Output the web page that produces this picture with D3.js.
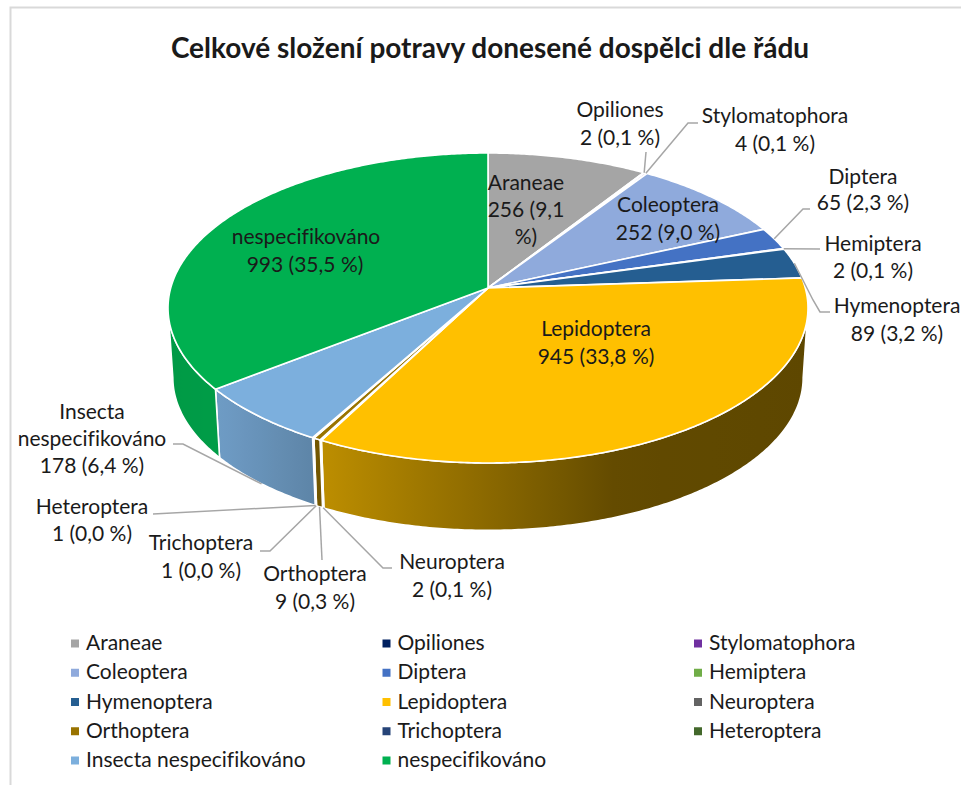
<!DOCTYPE html>
<html lang="cs">
<head>
<meta charset="utf-8">
<script src="https://cdn.jsdelivr.net/npm/d3@7/dist/d3.min.js"></script>
<style>
html,body{margin:0;padding:0;background:#fff;}
svg{display:block;}
text{font-family:Lato,"Liberation Sans",sans-serif;fill:#1a1a1a;font-variant-ligatures:none;}
</style>
</head>
<body>
<svg id="chart" width="961" height="785"></svg>
<script>
const titleText = "Celkové složení potravy donesené dospělci dle řádu";
const categories = ["Araneae","Opiliones","Stylomatophora","Coleoptera","Diptera","Hemiptera","Hymenoptera","Lepidoptera","Neuroptera","Orthoptera","Trichoptera","Heteroptera","Insecta nespecifikováno","nespecifikováno"];
const values = [256,2,4,252,65,2,89,945,2,9,1,1,178,993];
const percentLabels = ["9,1","0,1","0,1","9,0","2,3","0,1","3,2","33,8","0,1","0,3","0,0","0,0","6,4","35,5"];
const colors = ["#A5A5A5","#002060","#7030A0","#8FAADC","#4472C4","#70AD47","#255E91","#FFC000","#636363","#997300","#264478","#43682B","#7CAFDD","#00B050"];

// Layout of the labels: [lines with centre x and baseline y]
const labelLayout = {
  "Araneae":[[526,190],[526,217],[526,244]],
  "Opiliones":[[620,117],[620,145]],
  "Stylomatophora":[[775,123],[775,151]],
  "Coleoptera":[[668,212],[668,240]],
  "Diptera":[[863,184],[863,210]],
  "Hemiptera":[[873,251],[873,278]],
  "Hymenoptera":[[897,313],[897,341]],
  "Lepidoptera":[[596,336],[596,364]],
  "Neuroptera":[[452,569],[452,597]],
  "Orthoptera":[[315,581],[315,609]],
  "Trichoptera":[[201,550],[201,578]],
  "Heteroptera":[[92,514],[92,541]],
  "Insecta nespecifikováno":[[92,419],[92,446],[92,473]],
  "nespecifikováno":[[306,244],[305,272]]
};
const labelBreaks = {
  "Araneae":["Araneae","256 (9,1","%)"],
  "Insecta nespecifikováno":["Insecta","nespecifikováno","178 (6,4 %)"]
};
// Leader elbows, running outward from the slice edge; wall = anchored on the lower rim
const leaders = {
  "Opiliones":{wall:false,pts:[[646,152]]},
  "Stylomatophora":{wall:false,pts:[[688,123],[698,123]]},
  "Diptera":{wall:false,pts:[[803,209],[810,209]]},
  "Hemiptera":{wall:false,pts:[[820,249]]},
  "Hymenoptera":{wall:false,pts:[[813,300],[820,312],[830,312]]},
  "Neuroptera":{wall:true,pts:[[383,568],[392,568]]},
  "Orthoptera":{wall:true,pts:[[322,560]]},
  "Trichoptera":{wall:true,pts:[[270,551],[260,551]]},
  "Heteroptera":{wall:true,pts:[[153,514]]},
  "Insecta nespecifikováno":{wall:true,pts:[[183,444],[173,444]]}
};

const svg = d3.select("#chart");
const defs = svg.append("defs");
const colorScale = d3.scaleOrdinal().domain(categories).range(colors);

// frame
svg.append("path").attr("d","M10.5,785V7.5H961").attr("fill","none").attr("stroke","#d9d9d9").attr("stroke-width",2);

// title
svg.append("text").attr("x",490).attr("y",58).attr("text-anchor","middle")
  .attr("font-size",28).attr("font-weight",700).attr("fill","#111").text(titleText);

// perspective projection of a unit disc, so the centre sits above the ellipse centre
const cx = 488, cy = 288, K = 40/310, B = 152.4, R = 317.3;
const DEPTH = 70, BOTTOM_SCALE = 0.985;
function project(a, scale=1, dy=0){
  const u = Math.sin(a), v = -Math.cos(a), d = 1 - K*v;
  return [cx + scale*R*u/d, cy + dy + scale*B*v/d];
}
const line = d3.line();
const pie = d3.pie().sort(null).value(d=>d.value).startAngle(0).endAngle(2*Math.PI);
const arcs = pie(categories.map((name,i)=>({name,value:values[i],pct:percentLabels[i]})));
const samples = (a0,a1)=>{
  const n = Math.max(2,Math.ceil((a1-a0)/0.01));
  return d3.range(n+1).map(i=>a0+(a1-a0)*i/n);
};

// side walls: only the part in front of the silhouette
const visFrom = Math.acos(-K), visTo = 2*Math.PI - visFrom;
const shade = d3.scaleLinear().domain([172,220,312,327,440,620,808]).range([.875,.89,.76,.73,.6,.385,.37]).clamp(true);
const gSides = svg.append("g");
arcs.forEach((d,i)=>{
  const a0 = Math.max(d.startAngle,visFrom), a1 = Math.min(d.endAngle,visTo);
  if(a1<=a0) return;
  const top = samples(a0,a1).map(a=>project(a));
  const bot = samples(a0,a1).map(a=>project(a,BOTTOM_SCALE,DEPTH)).reverse();
  const id = "side"+i, base = d3.rgb(colorScale(d.data.name));
  const xs = d3.extent(top.concat(bot),p=>p[0]);
  const grad = defs.append("linearGradient").attr("id",id).attr("gradientUnits","userSpaceOnUse")
    .attr("x1",xs[0]).attr("x2",xs[1]).attr("y1",0).attr("y2",0);
  d3.range(0,1.0001,0.1).forEach(t=>{
    const x = xs[0]+(xs[1]-xs[0])*t, f = shade(x);
    grad.append("stop").attr("offset",t).attr("stop-color",d3.rgb(base.r*f,base.g*f,base.b*f).formatHex());
  });
  gSides.append("path").attr("d",line(top.concat(bot))+"Z").attr("fill",`url(#${id})`)
    .attr("stroke","#fff").attr("stroke-width",1.6).attr("stroke-linejoin","round");
});

// top faces
const gTop = svg.append("g");
arcs.forEach(d=>{
  const pts = [[cx,cy]].concat(samples(d.startAngle,d.endAngle).map(a=>project(a)));
  gTop.append("path").attr("d",line(pts)+"Z").attr("fill",colorScale(d.data.name))
    .attr("stroke","#fff").attr("stroke-width",1.6).attr("stroke-linejoin","round");
});

// leader lines
const gLead = svg.append("g");
arcs.forEach(d=>{
  const L = leaders[d.data.name];
  if(!L) return;
  const mid = (d.startAngle+d.endAngle)/2;
  const start = L.wall ? project(mid,BOTTOM_SCALE,DEPTH) : project(mid);
  gLead.append("path").attr("d",line([start].concat(L.pts))).attr("fill","none")
    .attr("stroke","#a6a6a6").attr("stroke-width",1.5);
});

// data labels
const gLab = svg.append("g").attr("font-size",21);
arcs.forEach(d=>{
  const name = d.data.name;
  const lines = labelBreaks[name] || [name, `${d.data.value} (${d.data.pct} %)`];
  labelLayout[name].forEach((p,i)=>{
    gLab.append("text").attr("x",p[0]).attr("y",p[1]).attr("text-anchor","middle").text(lines[i]);
  });
});

// legend
const colX = d3.scalePoint().domain([0,1,2]).range([71,694]);
const rowY = d3.scalePoint().domain([0,1,2,3,4]).range([643,760]);
const gLeg = svg.append("g").attr("font-size",21);
categories.forEach((name,i)=>{
  const x = colX(i%3), y = rowY(Math.floor(i/3));
  gLeg.append("rect").attr("x",x).attr("y",y-3.5).attr("width",8).attr("height",8).attr("fill",colorScale(name));
  gLeg.append("text").attr("x",x+15).attr("y",y+7).text(name);
});
</script>
</body>
</html>
